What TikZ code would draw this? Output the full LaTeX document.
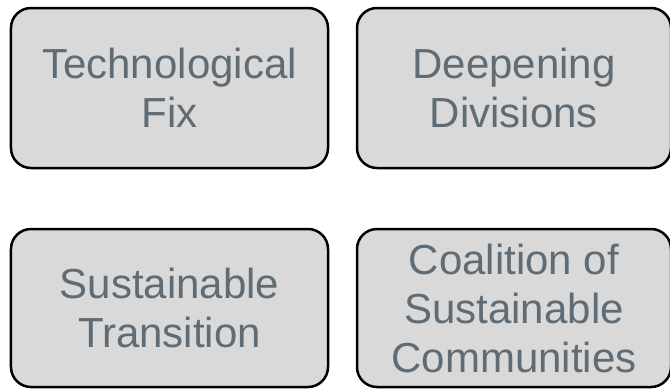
\documentclass[tikz,border=0pt]{standalone}
\usepackage{fontspec}
\setmainfont{Liberation Sans}
\definecolor{boxfill}{RGB}{217,217,217}
\definecolor{boxtext}{RGB}{95,108,117}

\begin{document}
\begin{tikzpicture}[x=1bp, y=-1bp,
        scenario/.style={draw=black, line width=2.5bp, fill=boxfill, rounded corners=20bp,
          text=boxtext, align=center, inner sep=0pt,
          font=\fontsize{42bp}{49bp}\selectfont}]
        \useasboundingbox (0,0) rectangle (670,388);
        \node[scenario, minimum width=317bp, minimum height=160bp] (TF) at (169.5,88) {Technological\\Fix};
        \node[scenario, minimum width=314bp, minimum height=160bp] (DD) at (514,88) {Deepening\\Divisions};
        \node[scenario, minimum width=317bp, minimum height=158bp] (ST) at (169.5,308) {Sustainable\\Transition};
        \node[scenario, minimum width=314bp, minimum height=158bp] (CSC) at (514,308) {Coalition of\\Sustainable\\Communities};
      \end{tikzpicture}
\end{document}
